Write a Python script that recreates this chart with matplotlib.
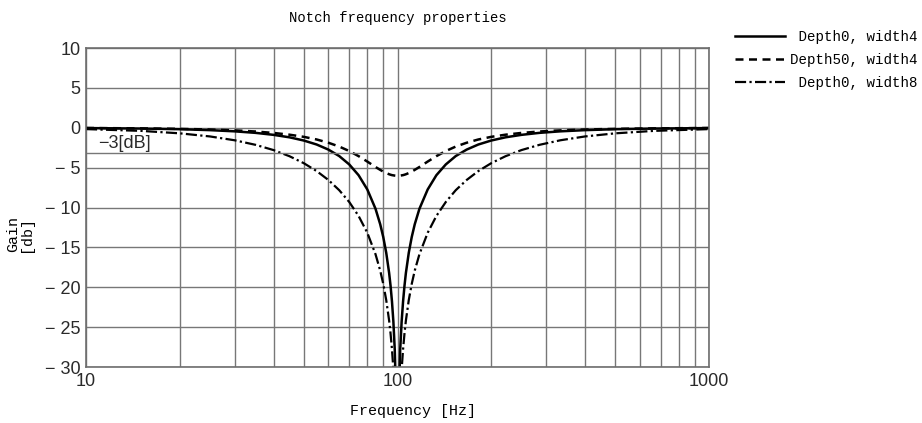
import matplotlib.pyplot as plt
from matplotlib.ticker import FixedLocator, NullFormatter

# gain [dB], notch centred at 100 Hz
freq = [10, 15, 20, 25, 30, 35, 40, 45, 50, 55, 60, 65, 70, 75, 80, 85, 88, 90,
        92, 94, 95, 96, 97, 98, 99, 100,
        101.0, 102.0, 103.1, 104.2, 105.3, 106.4, 108.7, 111.1, 113.6, 117.6,
        125, 133.3, 142.9, 153.8, 166.7, 181.8, 200, 222.2, 250, 285.7,
        333.3, 400, 500, 666.7, 1000]

half_d0_w4 = [-0.04, -0.10, -0.18, -0.30, -0.45, -0.64, -0.89, -1.20, -1.60, -2.10,
              -2.74, -3.55, -4.60, -5.95, -7.74, -10.16, -12.10, -13.70, -15.67,
              -18.21, -19.82, -21.79, -24.32, -27.88, -33.94]
half_d50_w4 = [-0.03, -0.08, -0.14, -0.22, -0.33, -0.47, -0.65, -0.87, -1.14, -1.47,
               -1.88, -2.36, -2.92, -3.56, -4.24, -4.92, -5.28, -5.50, -5.68,
               -5.83, -5.89, -5.94, -5.97, -6.00, -6.02]
half_d0_w8 = [-0.17, -0.39, -0.70, -1.09, -1.57, -2.14, -2.80, -3.57, -4.44, -5.43,
              -6.55, -7.83, -9.31, -11.06, -13.17, -15.86, -17.91, -19.58, -21.60,
              -24.18, -25.81, -27.79, -30.33, -33.89, -39.96]

gain_d0_w4 = half_d0_w4 + [-60] + half_d0_w4[::-1]
gain_d50_w4 = half_d50_w4 + [-6.02] + half_d50_w4[::-1]
gain_d0_w8 = half_d0_w8 + [-60] + half_d0_w8[::-1]

# leading spaces keep the monospace labels right-aligned like the original
labels = [' Depth0, width4', 'Depth50, width4', ' Depth0, width8']
y_ticks = [10, 5, 0, -5, -10, -15, -20, -25, -30]
x_ticks = [10, 100, 1000]

mono = 'Liberation Mono'
sans = 'Liberation Sans'

fig = plt.figure(figsize=(9.22, 4.23), dpi=100)
ax = fig.add_axes([86 / 922, 1 - 367 / 423, 623 / 922, 319 / 423])

ax.plot(freq, gain_d0_w4, color='black', lw=1.8, label=labels[0])
ax.plot(freq, gain_d50_w4, color='black', lw=1.8, linestyle=(0, (3.2, 2.2)), label=labels[1])
ax.plot(freq, gain_d0_w8, color='black', lw=1.6, linestyle=(0, (5, 1.5, 1, 1.5)), label=labels[2])

ax.set_xscale('log')
ax.set_xlim(10, 1000)
ax.set_ylim(-30, 10)

ax.xaxis.set_major_locator(FixedLocator(x_ticks))
ax.set_xticklabels([str(v) for v in x_ticks])
ax.xaxis.set_minor_locator(FixedLocator([20, 30, 40, 50, 60, 70, 80, 90,
                                         200, 300, 400, 500, 600, 700, 800, 900]))
ax.xaxis.set_minor_formatter(NullFormatter())
ax.set_yticks(y_ticks)
ax.set_yticklabels([str(v).replace('-', '\u2212 ') for v in y_ticks])

ax.grid(True, which='both', color='#777777', lw=1.0)
ax.axhline(-3.2, color='#777777', lw=1.0)
ax.tick_params(which='both', length=0, pad=4, labelsize=13, labelcolor='#2a2a2a')
for lab in ax.get_xticklabels() + ax.get_yticklabels():
    lab.set_fontfamily(sans)
for sp in ax.spines.values():
    sp.set_color('#6e6e6e')
    sp.set_linewidth(1.2)

ax.text(10.9, -2.0, '\u22123[dB]', fontsize=13, family=sans, color='#2a2a2a', va='center')

ax.set_title('Notch frequency properties', fontsize=10, family=mono, pad=19)
ax.set_xlabel('Frequency [Hz]', fontsize=10.8, family=mono, labelpad=12)
ax.xaxis.set_label_coords((413 - 86) / 623, -0.115)
fig.text(0.007, 1 - 234 / 423, 'Gain\n[db]', rotation=90, fontsize=10.8, family=mono,
         ha='left', va='center', linespacing=0.85)

fig.legend(loc='upper left', bbox_to_anchor=(735 / 922, 1 - 30 / 423), frameon=False,
           prop={'family': mono, 'size': 10.2}, handlelength=3.5, handletextpad=0.35,
           labelspacing=0.62, borderpad=0, borderaxespad=0)

fig.savefig('out.png', dpi=100)
